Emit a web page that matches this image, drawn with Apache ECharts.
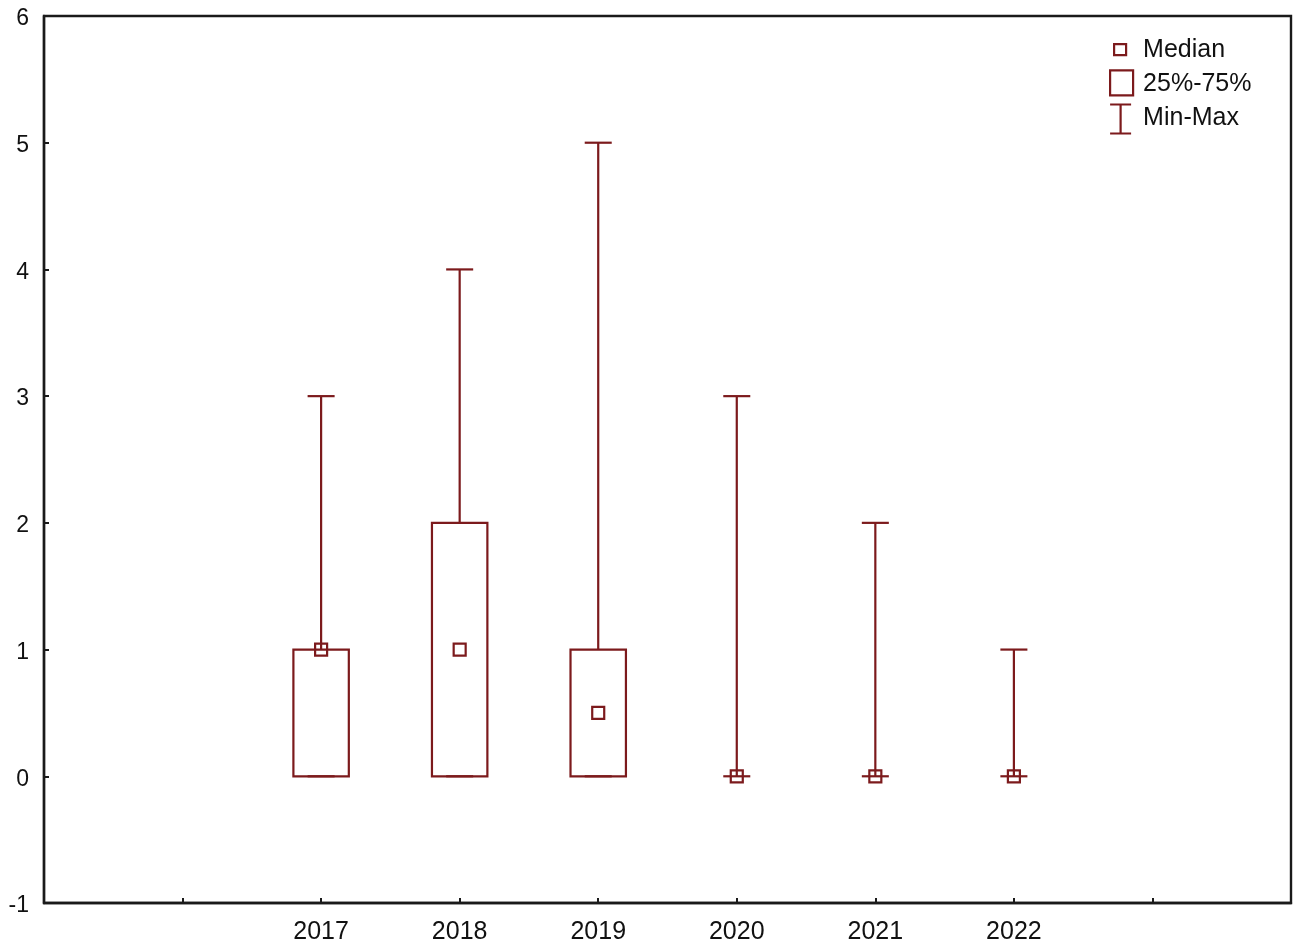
<!DOCTYPE html>
<html>
<head>
<meta charset="utf-8">
<script src="https://cdn.jsdelivr.net/npm/echarts@6/dist/echarts.min.js"></script>
<style>html,body{margin:0;padding:0;background:#fff}#c{width:1299px;height:951px}</style>
</head>
<body>
<div id="c"></div>
<script>
const categories = ['2017', '2018', '2019', '2020', '2021', '2022'];
const minVals    = [0, 0, 0, 0, 0, 0];
const q1Vals     = [0, 0, 0, 0, 0, 0];
const medianVals = [1, 1, 0.5, 0, 0, 0];
const q3Vals     = [1, 2, 1, 0, 0, 0];
const maxVals    = [3, 4, 5, 3, 2, 1];
const yMin = -1, yMax = 6;

const RED = '#7c1a1c';
const FONT = 'Liberation Sans, Arial, sans-serif';
const OFFSET = 2; // category i is placed at x = i + OFFSET on a 0..9 axis

const whiskerData = categories.map((c, i) => [i + OFFSET, minVals[i], q1Vals[i], q3Vals[i], maxVals[i]]);
const boxData = categories.map((c, i) => [i + OFFSET, q1Vals[i], q3Vals[i]]);
const medianData = categories.map((c, i) => [i + OFFSET, medianVals[i]]);

const chart = echarts.init(document.getElementById('c'), null, {renderer: 'canvas'});

const lineStyle = {stroke: RED, lineWidth: 2.2, fill: null};

chart.setOption({
  animation: false,
  backgroundColor: '#fff',
  grid: {left: 44, right: 8, top: 16, bottom: 48, show: true, borderColor: '#1a1a1a', borderWidth: 2.4, backgroundColor: 'transparent'},
  legend: {
    orient: 'vertical', left: 1107, top: 34, padding: 0,
    itemWidth: 30, itemHeight: 30, itemGap: 2,
    textStyle: {fontSize: 25, color: '#111', fontFamily: FONT, padding: [0, 0, 0, 0]},
    selectedMode: false,
    data: [
      {name: 'Median', icon: 'path://M0,0M30,30M6,9L18,9L18,20L6,20Z',
       itemStyle: {color: 'rgba(0,0,0,0)', borderColor: RED, borderWidth: 2.2}},
      {name: '25%-75%', icon: 'path://M0,0M30,30M2,1L25,1L25,26L2,26Z',
       itemStyle: {color: 'rgba(0,0,0,0)', borderColor: RED, borderWidth: 2.2}},
      {name: 'Min-Max', icon: 'path://M0,0M30,30M2,1L23,1M12.5,1L12.5,30M2,30L23,30',
       itemStyle: {color: 'rgba(0,0,0,0)', borderColor: RED, borderWidth: 2.2}}
    ]
  },
  xAxis: {
    type: 'value', min: 0, max: 9, interval: 1,
    axisLine: {show: true, onZero: false, lineStyle: {color: '#1a1a1a', width: 2.4}},
    axisTick: {show: true, inside: true, length: 5, lineStyle: {color: '#1a1a1a', width: 2}},
    axisLabel: {
      fontSize: 25, color: '#111', fontFamily: FONT, margin: 17,
      formatter: v => { const k = Math.round(v) - OFFSET; return (k >= 0 && k < categories.length) ? categories[k] : ''; }
    },
    splitLine: {show: false}
  },
  yAxis: {
    type: 'value', min: yMin, max: yMax, interval: 1,
    axisLine: {show: true, onZero: false, lineStyle: {color: '#1a1a1a', width: 2.4}},
    axisTick: {show: true, inside: true, length: 5, lineStyle: {color: '#1a1a1a', width: 2}},
    axisLabel: {
      color: '#111', margin: 15,
      formatter: v => '{v|' + v + '}',
      rich: {v: {fontSize: 23, color: '#111', fontFamily: FONT, padding: [6, 0, 0, 0]}}
    },
    splitLine: {show: false}
  },
  series: [
    {
      name: 'Min-Max', type: 'custom',
      itemStyle: {color: 'rgba(0,0,0,0)', borderColor: RED, borderWidth: 2},
      renderItem: function (params, api) {
        const x = api.value(0);
        const pMin = api.coord([x, api.value(1)]);
        const pQ1 = api.coord([x, api.value(2)]);
        const pQ3 = api.coord([x, api.value(3)]);
        const pMax = api.coord([x, api.value(4)]);
        const hw = api.size([0.195, 0])[0] / 2;
        const children = [
          {type: 'line', shape: {x1: pMax[0], y1: pMax[1], x2: pQ3[0], y2: pQ3[1]}, style: lineStyle},
          {type: 'line', shape: {x1: pQ1[0], y1: pQ1[1], x2: pMin[0], y2: pMin[1]}, style: lineStyle},
          {type: 'line', shape: {x1: pMax[0] - hw, y1: pMax[1], x2: pMax[0] + hw, y2: pMax[1]}, style: lineStyle},
          {type: 'line', shape: {x1: pMin[0] - hw, y1: pMin[1], x2: pMin[0] + hw, y2: pMin[1]}, style: lineStyle}
        ];
        return {type: 'group', children: children};
      },
      encode: {x: 0, y: [1, 2, 3, 4]},
      data: whiskerData
    },
    {
      name: '25%-75%', type: 'custom',
      itemStyle: {color: 'rgba(0,0,0,0)', borderColor: RED, borderWidth: 2},
      renderItem: function (params, api) {
        const x = api.value(0);
        const lo = api.value(1), hi = api.value(2);
        if (hi <= lo) return null;
        const pLo = api.coord([x, lo]);
        const pHi = api.coord([x, hi]);
        const w = api.size([0.4, 0])[0];
        return {type: 'rect', shape: {x: pLo[0] - w / 2, y: pHi[1], width: w, height: pLo[1] - pHi[1]}, style: lineStyle};
      },
      encode: {x: 0, y: [1, 2]},
      data: boxData
    },
    {
      name: 'Median', type: 'scatter', symbol: 'rect', symbolSize: 12,
      itemStyle: {color: 'rgba(0,0,0,0)', borderColor: RED, borderWidth: 2.2, opacity: 1},
      data: medianData, z: 5
    }
  ]
});
</script>
</body>
</html>
